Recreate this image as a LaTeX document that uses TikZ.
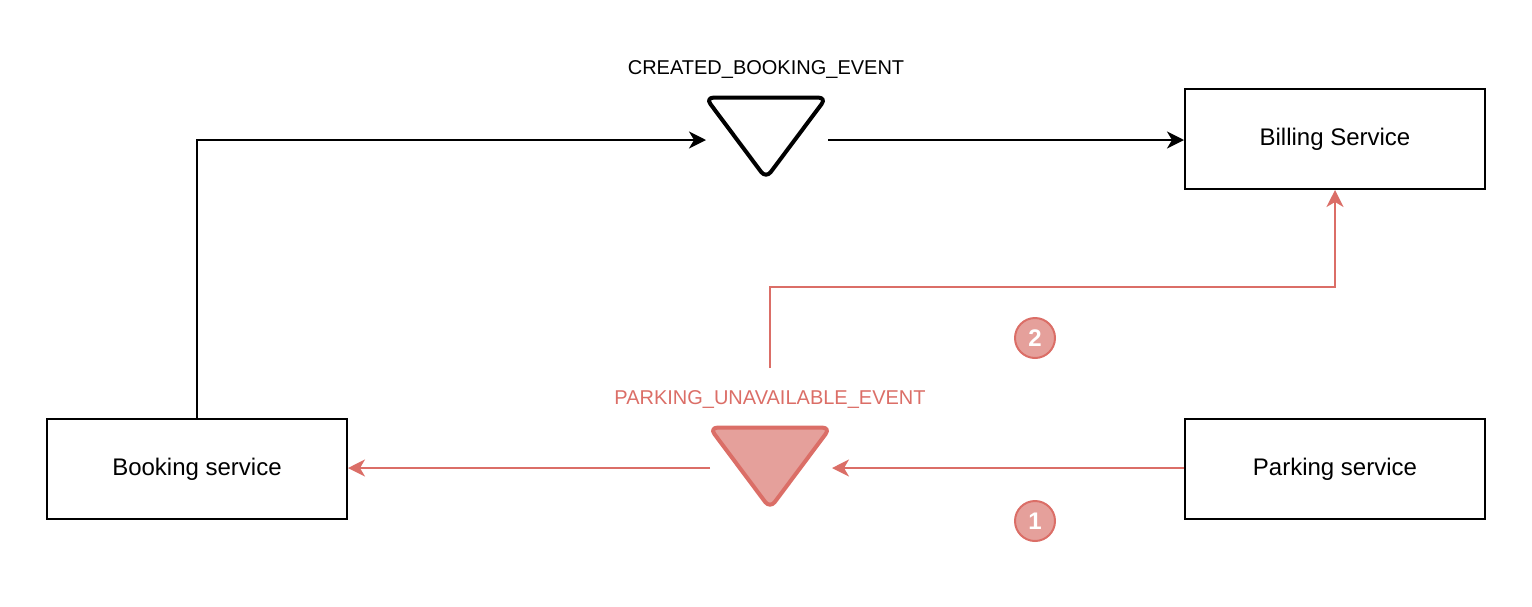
\documentclass[tikz,border=0pt]{standalone}
\usepackage{fontspec}
\setmainfont{Liberation Sans}
\usetikzlibrary{arrows.meta}
\definecolor{redline}{HTML}{DB6E67}
\definecolor{redfill}{HTML}{E5A09B}
\begin{document}
\begin{tikzpicture}[x=0.5pt,y=-0.5pt,
  svcbox/.style={draw=black,line width=1pt,minimum width=150pt,minimum height=50pt,inner sep=0pt,font=\fontsize{12}{14}\selectfont},
  evslot/.style={minimum width=60pt,minimum height=40pt,inner sep=0pt},
  evlabel/.style={font=\fontsize{10}{12}\selectfont,inner sep=0pt},
  blk/.style={draw=black,line width=1pt,-{Stealth[length=8.5pt,width=8.5pt,inset=2.5pt]}},
  red/.style={draw=redline,line width=1pt,-{Stealth[length=8.5pt,width=8.5pt,inset=2.5pt]}},
  badge/.style={circle,draw=redline,fill=redfill,line width=1pt,minimum size=20pt,inner sep=0pt,text=white,font=\fontsize{12}{14}\selectfont\bfseries}
]
\useasboundingbox (0,0) rectangle (1532,606);
\node[svcbox] (booking) at (197,469) {\raisebox{-1.5pt}{Booking service}};
\node[svcbox] (billing) at (1335,139) {\raisebox{-1.5pt}{Billing Service}};
\node[svcbox] (parking) at (1335,469) {\raisebox{-1.5pt}{Parking service}};
\node[evslot] (created) at (766,138) {};
\node[evslot] (unavail) at (770,468) {};
\draw[line width=2pt,rounded corners=4pt,line join=round] (created.north west) -- (created.north east) -- (created.south) -- cycle;
\draw[draw=redline,fill=redfill,line width=2pt,rounded corners=4pt,line join=round] (unavail.north west) -- (unavail.north east) -- (unavail.south) -- cycle;
\node[evlabel] (createdlbl) at (766,69) {CREATED\_BOOKING\_EVENT};
\node[evlabel,text=redline] (unavaillbl) at (770,399) {PARKING\_UNAVAILABLE\_EVENT};
\node[badge] (b1) at (1035,521) {1};
\node[badge] (b2) at (1035,338) {2};
\coordinate (redstart) at (770,368);
\coordinate (createdin) at (706,140);
\coordinate (createdout) at (828,140);
\coordinate (unavailin) at (832,468);
\coordinate (unavailout) at (710,468);
\draw[blk] (booking.north) |- (createdin);
\draw[blk] (createdout) -- (billing.west |- createdout);
\draw[red] (parking.west |- unavailin) -- (unavailin);
\draw[red] (unavailout) -- (booking.east |- unavailout);
\draw[red] (redstart) -- (770,287) -| (billing.south);
\end{tikzpicture}
\end{document}
